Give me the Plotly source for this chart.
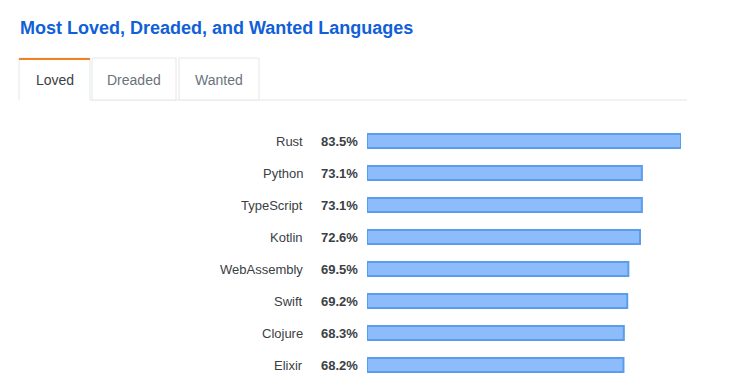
import plotly.graph_objects as go

languages = ["Rust", "Python", "TypeScript", "Kotlin", "WebAssembly", "Swift", "Clojure", "Elixir"]
loved_pct = [83.5, 73.1, 73.1, 72.6, 69.5, 69.2, 68.3, 68.2]
tabs = ["Loved", "Dreaded", "Wanted"]
title_text = "Most Loved, Dreaded, and Wanted Languages"

W, H = 740, 385
OFF = 8  # page body margin
def px(x):
    return (x - OFF) / W
def py(y):
    return 1 - (y - OFF) / H

fig = go.Figure()
fig.add_trace(go.Bar(
    x=loved_pct, y=languages, orientation="h",
    marker=dict(color="#8cbcfa", line=dict(color="#5b9ded", width=2)),
    hoverinfo="x+y", showlegend=False,
))

annotations = []
for lang, v in zip(languages, loved_pct):
    annotations.append(dict(x=px(305), y=lang, xref="paper", yref="y", text=lang,
                            showarrow=False, xanchor="right", yanchor="middle",
                            font=dict(family="Liberation Sans, Arial", size=13, color="#3b4045")))
    annotations.append(dict(x=px(319), y=lang, xref="paper", yref="y", text=f"<b>{v:.1f}%</b>",
                            showarrow=False, xanchor="left", yanchor="middle",
                            font=dict(family="Liberation Sans, Arial", size=13, color="#3b4045")))

annotations.append(dict(x=px(18), y=py(28), xref="paper", yref="paper", text=f"<b>{title_text}</b>",
                        showarrow=False, xanchor="left", yanchor="middle",
                        font=dict(family="Liberation Sans, Arial", size=18, color="#1060d8")))

tab_edges = [(19, 90), (92, 176), (179, 259)]
shapes = []
shapes.append(dict(type="line", xref="paper", yref="paper", x0=px(19), x1=px(687), y0=py(100), y1=py(100),
                   line=dict(color="#e4e6e8", width=1)))
for i, (name, (x0, x1)) in enumerate(zip(tabs, tab_edges)):
    shapes.append(dict(type="rect", xref="paper", yref="paper", x0=px(x0), x1=px(x1), y0=py(100), y1=py(58),
                       line=dict(color="#e4e6e8", width=1), fillcolor="white"))
    if i == 0:
        shapes.append(dict(type="line", xref="paper", yref="paper", x0=px(x0), x1=px(x1), y0=py(59), y1=py(59),
                           line=dict(color="#f48024", width=2)))
        shapes.append(dict(type="line", xref="paper", yref="paper", x0=px(x0 + 0.5), x1=px(x1 - 0.5), y0=py(100), y1=py(100),
                           line=dict(color="white", width=2)))
    annotations.append(dict(x=px((x0 + x1) / 2), y=py(80), xref="paper", yref="paper", text=name,
                            showarrow=False, xanchor="center", yanchor="middle",
                            font=dict(family="Liberation Sans, Arial", size=14,
                                      color="#3b4045" if i == 0 else "#6a737c")))

fig.update_layout(
    width=W, height=H,
    margin=dict(l=0, r=0, t=0, b=0),
    paper_bgcolor="white", plot_bgcolor="white",
    bargap=0.5625,
    xaxis=dict(domain=[px(367), px(681)], range=[0, max(loved_pct)], visible=False, fixedrange=True),
    yaxis=dict(domain=[py(381), py(125)], autorange="reversed", visible=False, fixedrange=True,
               categoryorder="array", categoryarray=languages),
    annotations=annotations,
    shapes=shapes,
)

fig.write_html("out.html")
